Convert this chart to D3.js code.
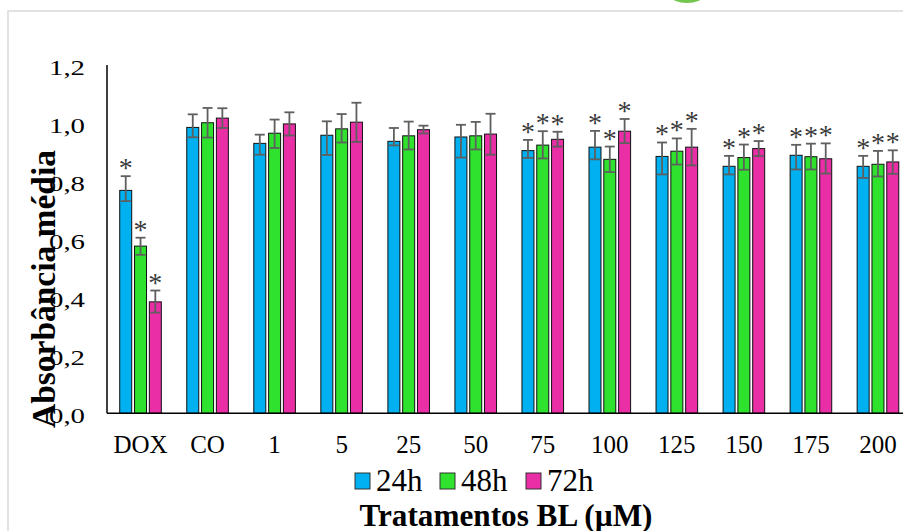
<!DOCTYPE html>
<html>
<head>
<meta charset="utf-8">
<script src="https://cdn.jsdelivr.net/npm/d3@7"></script>
<style>
    body { margin: 0; background: #fff; }
    svg { display: block; }
    text { font-family: "Liberation Serif", "Times New Roman", serif; fill: #000; }
</style>
</head>
<body>
<script>
(function() {

    ////////////////////
    //Global Variables//
    ////////////////////
    var categories = ["DOX", "CO", "1", "5", "25", "50", "75", "100", "125", "150", "175", "200"];
    var seriesNames = ["24h", "48h", "72h"];
    var colors = ["#00b0f0", "#2ee22e", "#ea2ea6"];

    // mean absorbance per treatment
    var values24 = [0.768, 0.985, 0.930, 0.958, 0.937, 0.952, 0.905, 0.917, 0.885, 0.851, 0.889, 0.851];
    var values48 = [0.576, 1.001, 0.965, 0.980, 0.956, 0.956, 0.924, 0.875, 0.903, 0.881, 0.884, 0.858];
    var values72 = [0.384, 1.017, 0.997, 1.003, 0.977, 0.962, 0.944, 0.972, 0.917, 0.912, 0.877, 0.866];

    // error bars (up / down)
    var errUp24 = [0.049, 0.045, 0.030, 0.048, 0.046, 0.042, 0.037, 0.056, 0.048, 0.036, 0.036, 0.036];
    var errDn24 = [0.037, 0.034, 0.039, 0.068, 0.014, 0.071, 0.025, 0.042, 0.062, 0.028, 0.049, 0.040];
    var errUp48 = [0.029, 0.051, 0.047, 0.051, 0.049, 0.048, 0.048, 0.044, 0.044, 0.045, 0.045, 0.046];
    var errDn48 = [0.030, 0.051, 0.051, 0.047, 0.047, 0.047, 0.046, 0.044, 0.046, 0.042, 0.044, 0.042];
    var errUp72 = [0.039, 0.034, 0.040, 0.067, 0.014, 0.070, 0.026, 0.042, 0.063, 0.026, 0.053, 0.040];
    var errDn72 = [0.037, 0.034, 0.040, 0.068, 0.013, 0.071, 0.025, 0.041, 0.063, 0.026, 0.051, 0.041];

    // groups with significance asterisk
    var marked = ["DOX", "75", "100", "125", "150", "175", "200"];

    var yTicks = [0, 0.2, 0.4, 0.6, 0.8, 1.0, 1.2];

    var width = 903,
        height = 531,
        serif = "'Liberation Serif', 'Times New Roman', serif";

    var svg = d3.select("body")
        .append("svg")
        .attr("width", width)
        .attr("height", height);

    // light frame of the pasted chart
    svg.append("path")
        .attr("d", "M8,531 L8,11 L903,11")
        .attr("fill", "none")
        .attr("stroke", "#d9d9d9")
        .attr("stroke-width", 1.5);

    // bit of a green shape cut off at the top
    svg.append("ellipse")
        .attr("cx", 687)
        .attr("cy", -4)
        .attr("rx", 16)
        .attr("ry", 7)
        .attr("fill", "#72c64e");

    // scales
    var x0 = d3.scaleBand()
        .domain(categories)
        .range([107, 107 + 12 * 67.04]);

    var x1 = d3.scaleBand()
        .domain(seriesNames)
        .range([-20.8, 20.8])
        .paddingInner(0.19);

    var y = d3.scaleLinear()
        .domain([0, 1.2])
        .range([413.3, 65]);

    // build rows for the bars
    var rows = [];
    var vals = [values24, values48, values72],
        ups = [errUp24, errUp48, errUp72],
        dns = [errDn24, errDn48, errDn72];
    categories.forEach(function(c, i) {
        seriesNames.forEach(function(s, j) {
            rows.push({
                cat: c,
                series: s,
                color: colors[j],
                value: vals[j][i],
                up: ups[j][i],
                down: dns[j][i]
            });
        });
    });

    function barX(d) {
        return x0(d.cat) + x0.bandwidth() / 2 + x1(d.series);
    }

    // bars
    svg.selectAll(".bar")
        .data(rows)
        .enter()
        .append("rect")
        .attr("class", "bar")
        .attr("x", barX)
        .attr("width", x1.bandwidth())
        .attr("y", function(d) { return y(d.value); })
        .attr("height", function(d) { return y(0) - y(d.value); })
        .attr("fill", function(d) { return d.color; })
        .attr("stroke", "#111")
        .attr("stroke-width", 1);

    // error bars
    var err = svg.selectAll(".err")
        .data(rows)
        .enter()
        .append("g")
        .attr("class", "err")
        .attr("stroke", "#5f5f5f")
        .attr("stroke-width", 1.8)
        .attr("transform", function(d) {
            return "translate(" + (barX(d) + x1.bandwidth() / 2) + ",0)";
        });

    err.append("line")
        .attr("x1", 0).attr("x2", 0)
        .attr("y1", function(d) { return y(d.value + d.up); })
        .attr("y2", function(d) { return y(d.value - d.down); });

    err.append("line")
        .attr("x1", -5).attr("x2", 5)
        .attr("y1", function(d) { return y(d.value + d.up); })
        .attr("y2", function(d) { return y(d.value + d.up); });

    err.append("line")
        .attr("x1", -5).attr("x2", 5)
        .attr("y1", function(d) { return y(d.value - d.down); })
        .attr("y2", function(d) { return y(d.value - d.down); });

    // asterisks
    svg.selectAll(".star")
        .data(rows.filter(function(d) { return marked.indexOf(d.cat) >= 0; }))
        .enter()
        .append("text")
        .attr("class", "star")
        .attr("x", function(d) { return barX(d) + x1.bandwidth() / 2; })
        .attr("y", function(d) { return y(d.value + d.up) + 1; })
        .attr("text-anchor", "middle")
        .attr("font-family", serif)
        .style("font-size", "28px")
        .style("fill", "#3a3a3a")
        .text("*");

    // axes lines
    svg.append("line")
        .attr("x1", 107).attr("x2", width)
        .attr("y1", y(0)).attr("y2", y(0))
        .attr("stroke", "#000")
        .attr("stroke-width", 1.5);

    svg.append("line")
        .attr("x1", 107).attr("x2", 107)
        .attr("y1", y(1.2)).attr("y2", y(0))
        .attr("stroke", "#000")
        .attr("stroke-width", 1.5);

    // y tick labels
    svg.selectAll(".ytick")
        .data(yTicks)
        .enter()
        .append("text")
        .attr("class", "ytick")
        .attr("x", 85)
        .attr("y", function(d) { return y(d) + 9.5; })
        .attr("text-anchor", "end")
        .attr("textLength", 36)
        .attr("lengthAdjust", "spacingAndGlyphs")
        .attr("font-family", serif)
        .style("font-size", "21px")
        .text(function(d) { return d3.format(".1f")(d).replace(".", ","); });

    // x labels
    svg.selectAll(".xlab")
        .data(categories)
        .enter()
        .append("text")
        .attr("class", "xlab")
        .attr("x", function(d) { return x0(d) + x0.bandwidth() / 2; })
        .attr("y", 453)
        .attr("text-anchor", "middle")
        .attr("font-family", serif)
        .style("font-size", "25px")
        .text(function(d) { return d; });

    // legend
    var legendX = [355, 440, 526];
    var legend = svg.selectAll(".legend")
        .data(seriesNames)
        .enter()
        .append("g")
        .attr("class", "legend")
        .attr("transform", function(d, i) { return "translate(" + legendX[i] + ",0)"; });

    legend.append("rect")
        .attr("x", 0)
        .attr("y", 473)
        .attr("width", 15)
        .attr("height", 16)
        .attr("fill", function(d, i) { return colors[i]; })
        .attr("stroke", "#333")
        .attr("stroke-width", 1);

    legend.append("text")
        .attr("x", 21)
        .attr("y", 491)
        .attr("font-family", serif)
        .style("font-size", "31px")
        .text(function(d) { return d; });

    // axis titles
    svg.append("text")
        .attr("x", 506)
        .attr("y", 526)
        .attr("text-anchor", "middle")
        .attr("textLength", 293)
        .attr("lengthAdjust", "spacingAndGlyphs")
        .attr("font-family", serif)
        .style("font-size", "32px")
        .style("font-weight", "bold")
        .text("Tratamentos BL (\u00b5M)");

    svg.append("text")
        .attr("transform", "translate(55,289) rotate(-90)")
        .attr("text-anchor", "middle")
        .attr("textLength", 278)
        .attr("lengthAdjust", "spacingAndGlyphs")
        .attr("font-family", serif)
        .style("font-size", "33px")
        .style("font-weight", "bold")
        .text("Absorbância média");
})();
</script>
</body>
</html>
